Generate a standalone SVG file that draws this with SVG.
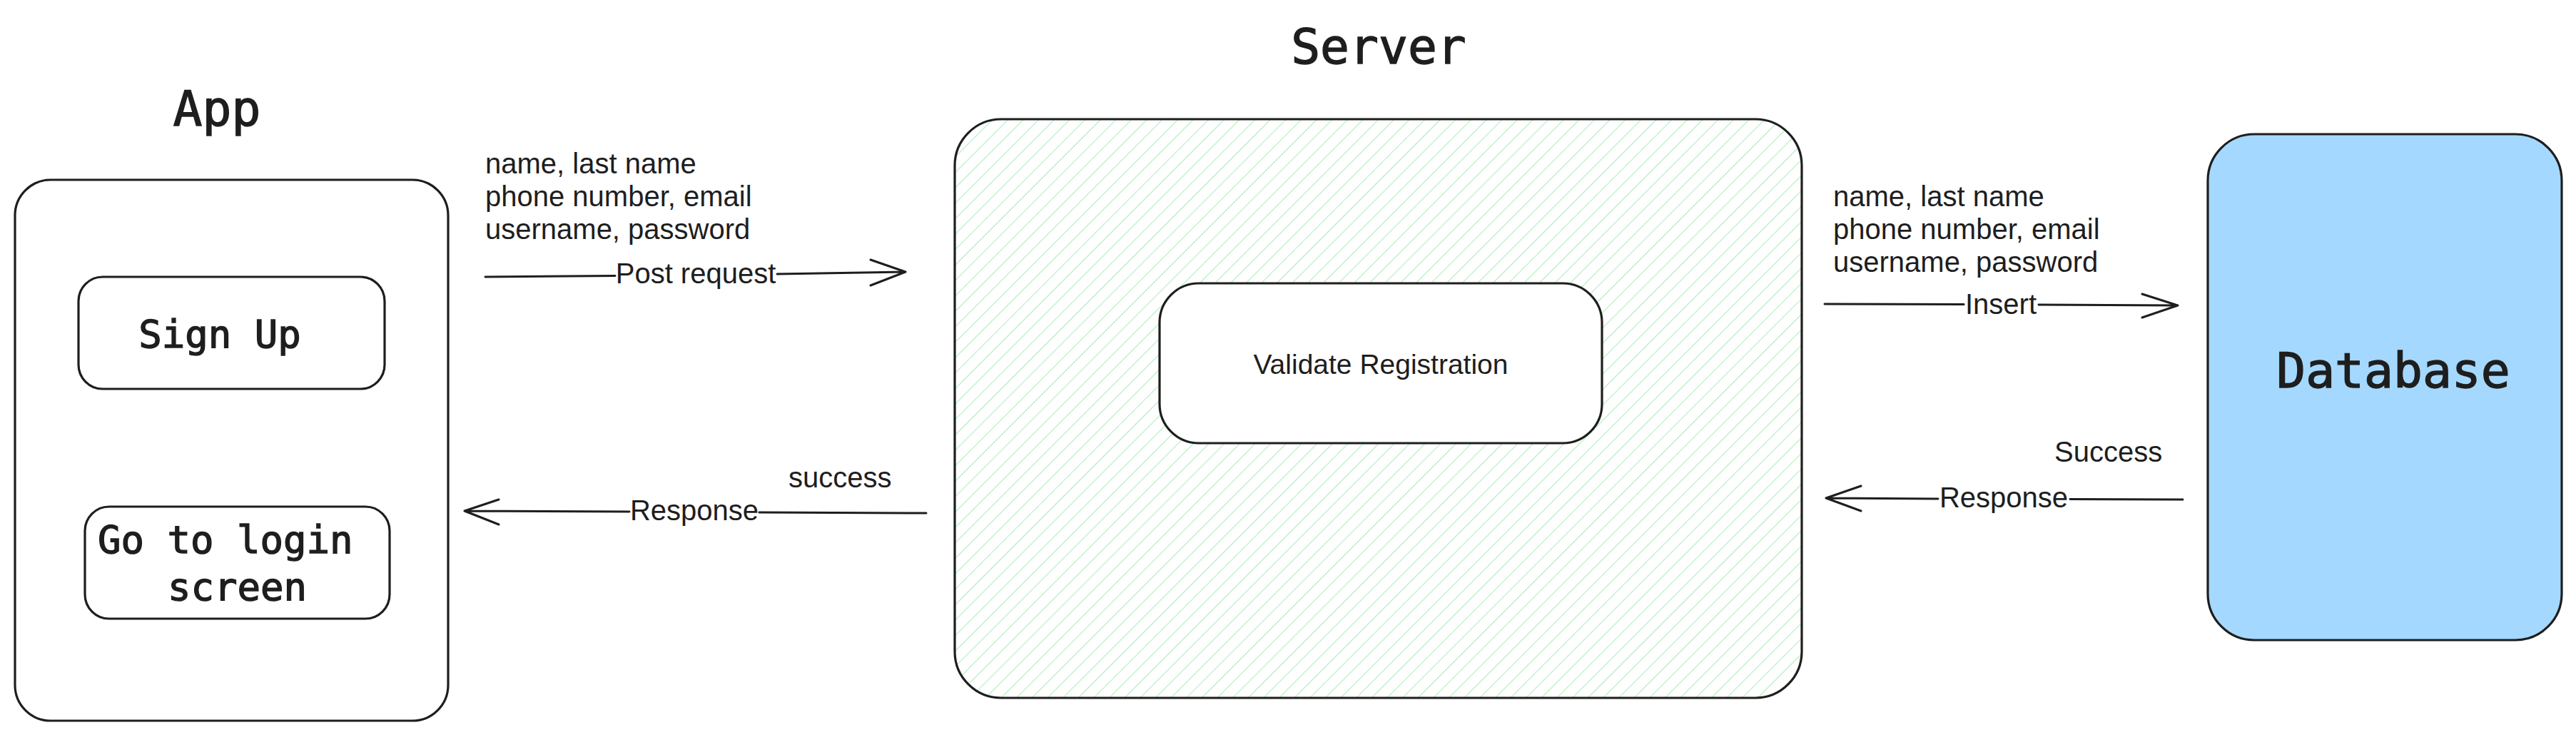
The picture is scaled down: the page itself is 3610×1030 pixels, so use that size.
<svg xmlns="http://www.w3.org/2000/svg" width="3610" height="1030" viewBox="0 0 3610 1030">
  <style>
    .box { fill: none; stroke: #1e1e1e; stroke-width: 3.2; }
    .white { fill: #ffffff; stroke: #1e1e1e; stroke-width: 3.2; }
    .conn { fill: none; stroke: #1e1e1e; stroke-width: 3; stroke-linecap: round; stroke-linejoin: round; }
    .mono { font-family: "DejaVu Sans Mono", "Liberation Mono", monospace; fill: #1e1e1e; stroke: #1e1e1e; stroke-width: 1.4; }
    .sans { font-family: "Liberation Sans", Arial, sans-serif; font-size: 40px; fill: #1e1e1e; }
  </style>
  <defs>
    <pattern id="hatch" patternUnits="userSpaceOnUse" width="15.3" height="15.3" patternTransform="rotate(45)">
      <line x1="0" y1="-2" x2="0" y2="18" stroke="#a8ecb3" stroke-width="2"/>
    </pattern>
  </defs>
  <rect width="3610" height="1030" fill="#ffffff"/>

  <g id="app">
    <text class="mono" x="304" y="176" font-size="68" text-anchor="middle">App</text>
    <rect class="box" x="21" y="252" width="607" height="758" rx="50"/>
  </g>
  <g id="signup">
    <rect class="box" x="110" y="388" width="429" height="157" rx="34"/>
    <text class="mono" x="308" y="487" font-size="54" text-anchor="middle">Sign Up</text>
  </g>
  <g id="gotologin">
    <rect class="box" x="119" y="710" width="427" height="157" rx="34"/>
    <text class="mono" font-size="54"><tspan x="137" y="775">Go to login</tspan><tspan x="235" y="841">screen</tspan></text>
  </g>
  <g id="server">
    <text class="mono" x="1932" y="89" font-size="68" text-anchor="middle">Server</text>
    <rect x="1338" y="167" width="1187" height="811" rx="65" fill="url(#hatch)" stroke="#1e1e1e" stroke-width="3.2"/>
  </g>
  <g id="validate">
    <rect class="white" x="1625" y="397" width="620" height="224" rx="55"/>
    <text class="sans" x="1935" y="524" text-anchor="middle" style="font-size:39px">Validate Registration</text>
  </g>
  <g id="database">
    <rect x="3094" y="188" width="496" height="709" rx="65" fill="#a5d8ff" stroke="#1e1e1e" stroke-width="3.2"/>
    <text class="mono" x="3354" y="543" font-size="68" text-anchor="middle">Database</text>
  </g>

  <g id="connectors">
    <!-- Post request -->
    <path class="conn" d="M680 388 L862 386.5 M1089 384 L1269 381 M1220 364 L1269 381 L1220 400"/>
    <!-- Response to app -->
    <path class="conn" d="M1298 719 L1064 718 M882 717 L651 716 M699 700 L651 716 L699 735"/>
    <!-- Insert -->
    <path class="conn" d="M2557 426 L2752 426.5 M2857 427 L3052 428 M3002 412 L3052 428 L3002 445"/>
    <!-- Response to server -->
    <path class="conn" d="M3059 700 L2901 699.5 M2716 699 L2559 698 M2608 681 L2559 698 L2608 716"/>
  </g>

  <g id="labels">
    <text class="sans"><tspan x="680" y="243">name, last name</tspan><tspan x="680" y="289">phone number, email</tspan><tspan x="680" y="335">username, password</tspan></text>
    <text class="sans" x="975" y="397" text-anchor="middle">Post request</text>
    <text class="sans" x="1105" y="683">success</text>
    <text class="sans" x="973" y="729" text-anchor="middle">Response</text>
    <text class="sans"><tspan x="2569" y="289">name, last name</tspan><tspan x="2569" y="335">phone number, email</tspan><tspan x="2569" y="381">username, password</tspan></text>
    <text class="sans" x="2804" y="440" text-anchor="middle">Insert</text>
    <text class="sans" x="2879" y="647">Success</text>
    <text class="sans" x="2808" y="711" text-anchor="middle">Response</text>
  </g>
</svg>
